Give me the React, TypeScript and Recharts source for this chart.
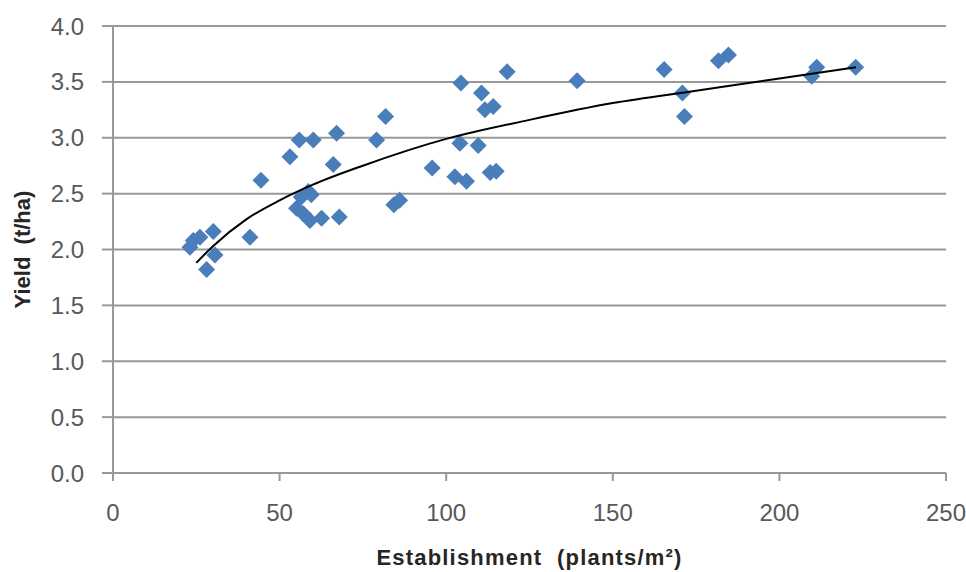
import { CartesianGrid, Scatter, ScatterChart, XAxis, YAxis } from "recharts";

const establishment = [
  118.3, 104.4, 110.6, 111.6, 114.1, 81.8, 79.1, 67.1, 60.1, 55.9, 53.1, 66.1, 44.4,
  104.1, 109.6, 95.8, 102.6, 106.1, 113.2, 115.0, 84.3, 86.0, 58.6, 55.1, 57.1, 59.1,
  62.6, 67.9, 41.1, 24.1, 26.1, 30.1, 23.1, 30.6, 28.1, 139.3, 165.4, 170.9, 171.5,
  181.7, 184.7, 211.2, 209.7, 222.9, 56.5, 59.5,
];
const yieldTha = [
  3.59, 3.49, 3.40, 3.25, 3.28, 3.19, 2.98, 3.04, 2.98, 2.98, 2.83, 2.76, 2.62,
  2.95, 2.93, 2.73, 2.65, 2.61, 2.69, 2.70, 2.40, 2.44, 2.52, 2.37, 2.32, 2.26,
  2.28, 2.29, 2.11, 2.08, 2.11, 2.16, 2.02, 1.95, 1.82, 3.51, 3.61, 3.40, 3.19,
  3.69, 3.74, 3.63, 3.55, 3.63, 2.47, 2.49,
];

// trendline values
const trendX = [25, 30, 40, 50, 60, 75, 100, 125, 150, 175, 200, 223];
const trendY = [1.88, 2.03, 2.27, 2.44, 2.58, 2.75, 2.99, 3.16, 3.31, 3.42, 3.53, 3.63];

const xTicks = [0, 50, 100, 150, 200, 250];
const yTicks = [0, 0.5, 1, 1.5, 2, 2.5, 3, 3.5, 4];

const points = establishment.map((x, i) => ({ x, y: yieldTha[i] }));
const trend = trendX.map((x, i) => ({ x, y: trendY[i] }));

const FONT = "'Liberation Sans', Arial, sans-serif";

const Diamond = (props: any) => {
  const { cx, cy } = props;
  const r = 8.5;
  return (
    <polygon
      points={`${cx},${cy - r} ${cx + r},${cy} ${cx},${cy + r} ${cx - r},${cy}`}
      fill="#4a7ebb"
    />
  );
};

export default function App() {
  return (
    <div style={{ position: "absolute", left: 0, top: 0, width: 966, height: 572, background: "#fff" }}>
      <ScatterChart width={966} height={572} margin={{ top: 26, right: 20, bottom: 0, left: 0 }}>
        <CartesianGrid vertical={false} stroke="#989898" strokeWidth={2} />
        <XAxis
          type="number"
          dataKey="x"
          domain={[0, 250]}
          ticks={xTicks}
          height={99}
          stroke="#989898"
          strokeWidth={2}
          tickSize={8}
          tickMargin={23}
          tick={{ fill: "#595959", fontSize: 24, fontFamily: FONT }}
          label={{
            value: "Establishment\u00a0 (plants/m²)",
            position: "insideBottom",
            offset: 7,
            fill: "#262626",
            fontSize: 22,
            fontWeight: "bold",
            fontFamily: FONT,
            style: { letterSpacing: 1.2 },
          }}
        />
        <YAxis
          type="number"
          dataKey="y"
          domain={[0, 4]}
          ticks={yTicks}
          width={113}
          stroke="#989898"
          strokeWidth={2}
          tickSize={11}
          tickMargin={18}
          tickFormatter={(v) => Number(v).toFixed(1)}
          tick={{ fill: "#595959", fontSize: 24, fontFamily: FONT }}
          label={{
            value: "Yield\u00a0 (t/ha)",
            angle: -90,
            position: "insideLeft",
            offset: 22,
            style: { textAnchor: "middle" },
            fill: "#262626",
            fontSize: 22,
            fontWeight: "bold",
            fontFamily: FONT,
          }}
        />
        <Scatter data={points} shape={<Diamond />} isAnimationActive={false} />
        <Scatter
          data={trend}
          line={{ stroke: "#000", strokeWidth: 2 }}
          lineJointType="monotoneX"
          shape={() => <g />}
          isAnimationActive={false}
        />
      </ScatterChart>
    </div>
  );
}
